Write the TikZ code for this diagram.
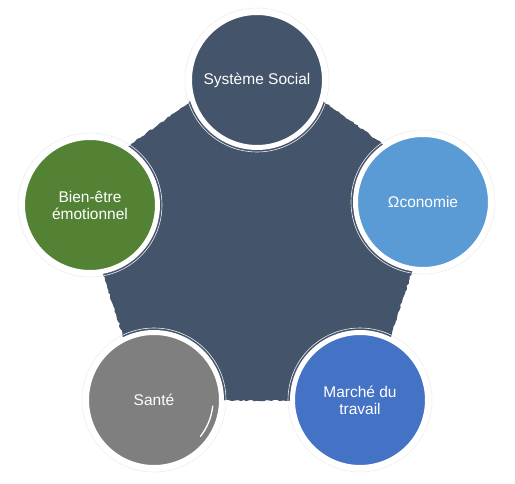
\documentclass[tikz,border=0pt]{standalone}
\usepackage{fontspec}
\setmainfont{Liberation Sans}
\usepackage{xcolor}
\usepackage{tikz}
\usetikzlibrary{shapes.geometric,decorations.pathmorphing}

\definecolor{slate}{HTML}{44546A}
\definecolor{skyblue}{HTML}{5B9BD5}
\definecolor{leafgreen}{HTML}{548235}
\definecolor{midgray}{HTML}{7F7F7F}
\definecolor{royalblue}{HTML}{4472C4}

\begin{document}
\begin{tikzpicture}[x=1pt, y=-1pt,
    topic/.style={circle, minimum size=135pt, inner sep=0pt, draw=white, line width=5pt,
        text=white, align=center, font=\fontsize{15.5}{17}\selectfont},
    halo/.style={draw=black!7, line width=0.6pt},
    coreshape/.style={fill=slate, decorate, decoration={random steps, segment length=2.5pt, amplitude=0.8pt}}]

    % fixed frame, pixel coordinates
    \useasboundingbox (0,0) rectangle (515,484);

    % Central pentagon (corners hidden under the circles)
    \node[regular polygon, regular polygon sides=5, minimum size=384pt, inner sep=0pt] (core) at (257,245) {};
    \fill[coreshape] (core.corner 1) -- (core.corner 2) -- (core.corner 3)
        -- (core.corner 4) -- (core.corner 5) -- cycle;

    % faint outer rings
    \foreach \c in {(257,80),(423,202),(360,400),(154,400),(90,205)}
        \draw[halo] \c circle[radius=72];

    % The five topics
    \node[topic, fill=slate] (social) at (257,80) {Système Social};
    \node[topic, fill=skyblue] (eco) at (423,202) {Ωconomie};
    \node[topic, fill=royalblue] (travail) at (360,400) {Marché du\\travail};
    \node[topic, fill=midgray] (sante) at (154,400) {Santé};
    \node[topic, fill=leafgreen] (bienetre) at (90,205) {Bien-être\\émotionnel};

    % glare mark on Santé
    \draw[white, line width=1.3pt, line cap=round] (sante.center) ++(6:59) arc[start angle=6, end angle=38, radius=59];

\end{tikzpicture}
\end{document}
